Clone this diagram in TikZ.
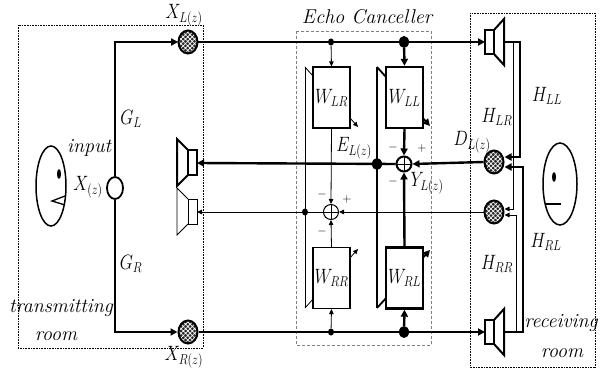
\documentclass[tikz,border=0pt]{standalone}
\usepackage{graphicx}
\usetikzlibrary{arrows.meta,shapes.geometric,patterns.meta,calc}
\newcommand{\ml}[1]{\scalebox{0.82}[1]{$#1$}}
\tikzset{
  thk/.style={line width=2.4pt},
  med/.style={line width=1.8pt},
  thn/.style={line width=0.8pt},
  tip/.style={-{Triangle[length=7pt,width=7pt]}},
  tips/.style={-{Triangle[length=5pt,width=4.5pt]}},
  lab/.style={font=\fontsize{22}{26}\selectfont, inner sep=0pt},
  itx/.style={font=\fontsize{20}{24}\selectfont\itshape, inner sep=0pt},
  sgn/.style={font=\fontsize{12}{14}\selectfont, inner sep=0pt},
  mic/.style={ellipse, draw, line width=2pt, minimum width=19pt, minimum height=23pt, inner sep=0pt,
    preaction={fill=black!85}, pattern={Hatch[angle=45,distance=3.2pt,line width=0.7pt]}, pattern color=white},
  wbox/.style={draw, fill=white, minimum width=37pt, minimum height=61pt, inner sep=0pt, line width=1.1pt,
    font=\fontsize{20}{24}\selectfont},
  wboxk/.style={wbox, line width=2.4pt},
  sumc/.style={circle, draw, fill=white, minimum size=15pt, inner sep=0pt,
    path picture={\draw[line width=0.8pt] (path picture bounding box.north) -- (path picture bounding box.south)
      (path picture bounding box.west) -- (path picture bounding box.east);}},
  dotb/.style={ellipse, fill, minimum width=10pt, minimum height=12pt, inner sep=0pt},
  dots/.style={ellipse, fill, minimum width=6pt, minimum height=7pt, inner sep=0pt},
  room/.style={draw, line width=0.6pt, dash pattern=on 0.8pt off 0.8pt},
  ecbox/.style={draw=gray, line width=0.6pt, dash pattern=on 3pt off 2pt},
}
\begin{document}
\begin{tikzpicture}[x=1pt,y=-1pt]
\useasboundingbox (0,0) rectangle (600,374);
% rooms
\draw[room] (18,25) rectangle (203,348);
\draw[room] (470,13) rectangle (595,367);
\draw[ecbox] (296,31) rectangle (431,345);
\node[itx] (ectitle) at (367,17) {Echo Canceller};

% faces
\draw[line width=1.5pt] (51,186) ellipse [x radius=15pt, y radius=40pt];
\fill (59,174) ellipse [x radius=2pt, y radius=5pt];
\draw[line width=1.3pt] (65,196) -- (52,201) -- (65,205);
\draw[line width=1.5pt] (560,184) ellipse [x radius=17pt, y radius=41pt];
\fill (554,177) ellipse [x radius=2pt, y radius=5pt];
\draw[line width=1.5pt] (546,204) -- (561,204);

% input and microphones
\node[ellipse, draw, line width=1.8pt, minimum width=16pt, minimum height=22pt, inner sep=0pt] (in) at (115,188) {};
\node[mic] (XL) at (188,42) {};
\node[mic] (XR) at (188,332) {};
\node[mic] (DL) at (494,162) {};
\node[mic] (DR) at (494,212) {};
\draw[med,tip] (in.north) |- (XL.west);
\draw[med,tip] (in.south) |- (XR.west);

% speakers: receiving room
\coordinate (sTin) at (485,42); \coordinate (sTout) at (504,42);
\coordinate (sBin) at (485,332); \coordinate (sBout) at (504,332);
\draw[line width=2pt] (485,30) rectangle (494,54);
\draw[line width=2pt] (494,30) -- (504,19) -- (504,65) -- (494,54);
\draw[line width=2pt] (485,320) rectangle (494,344);
\draw[line width=2pt] (494,320) -- (504,309) -- (504,355) -- (494,344);
% speakers: transmitting room
\coordinate (sLa) at (197,163); \coordinate (sLb) at (197,212);
\draw[line width=2pt] (188,150) rectangle (197,175);
\draw[line width=2pt] (188,150) -- (177,139) -- (177,186) -- (188,175);
\draw[line width=0.9pt] (188,199) rectangle (197,224);
\draw[line width=0.9pt] (188,199) -- (177,188) -- (177,235) -- (188,224);

% adaptation lines (under the boxes)
\coordinate (aT) at (377,67); \coordinate (aB) at (377,308);
\coordinate (bT) at (305,67); \coordinate (bB) at (305,308);
\draw[thk] (aT) -- (aB);
\draw[med,tip] (aT) -- (430,126);
\draw[med,tip] (aB) -- (430,250);
\draw[thn] (bT) -- (bB);
\draw[thn,tips] (bT) -- (358,127);
\draw[thn,tips] (bB) -- (358,249);

% filter boxes
\node[wbox] (WLR) at (331.5,97.5) {\ml{W_{LR}}};
\node[wboxk] (WLL) at (404.5,97.5) {\ml{W_{LL}}};
\node[wbox] (WRR) at (331.5,278) {\ml{W_{RR}}};
\node[wboxk] (WRL) at (404.5,278) {\ml{W_{RL}}};

% main lines
\node[dots] (d1) at (331,42) {};
\node[dotb] (d2) at (404,42) {};
\node[dots] (d3) at (331,332) {};
\node[dotb] (d4) at (404,332) {};
\draw[thk,tip] (XL.east) -- (sTin);
\draw[thk,tip] (XR.east) -- (sBin);
\draw[thn,tips] (d1) -- (WLR.north);
\draw[thk,tip] (d2) -- (WLL.north);
\draw[thn,tips] (d3) -- (WRR.south);
\draw[thk,tip] (d4) -- (WRL.south);

% summing junctions
\node[sumc, line width=2pt] (S1) at (404,164) {};
\node[sumc, line width=1pt] (S2) at (331,212) {};
\node[dotb] (eL) at (377,164) {};
\node[dots] (eR) at (305,212) {};
\draw[thk,tip] (WLL.south) -- (S1.north);
\draw[thk,tip] (WRL.north) -- (S1.south);
\draw[thk,tip] (DL.west) -- (S1.east);
\draw[thk,tip] (S1.west) -- (sLa);
\draw[thn,tips] (WLR.south) -- (S2.north);
\draw[thn,tips] (WRR.north) -- (S2.south);
\draw[thn,tips] (DR.west) -- (S2.east);
\draw[thn,tips] (S2.west) -- (sLb);

% acoustic paths in receiving room
\coordinate (hLR) at (513,42); \coordinate (hRR) at (516,332);
\draw[thk,tip] (sTout) -- (520,42) |- ($(DL.east)+(0,-5)$);
\draw[thk,tip] (sBout) -- (523,332) |- ($(DL.east)+(0,5)$);
\draw[thn,tips] (hLR) |- ($(DR.east)+(0,-3)$);
\draw[thn,tips] (hRR) |- ($(DR.east)+(0,3)$);

% signs
\node[sgn] (m1) at (393,148) {$-$};
\node[sgn] (p1) at (422,149) {$+$};
\node[sgn] (m2) at (393,182) {$-$};
\node[sgn] (m3) at (322,195) {$-$};
\node[sgn] (p2) at (347,200) {$+$};
\node[sgn] (m4) at (322,232) {$-$};

% labels
\node[lab] (lXL) at (184,15) {\ml{X_{L(z)}}};
\node[lab] (lXR) at (184,357) {\ml{X_{R(z)}}};
\node[lab] (lGL) at (131,119) {\ml{G_L}};
\node[lab] (lGR) at (131,264) {\ml{G_R}};
\node[itx] (linput) at (89,148) {input};
\node[lab] (lX) at (88,187) {\ml{X_{(z)}}};
\node[itx] (ltr) at (61,308) {transmitting};
\node[itx] (ltr2) at (56,336) {room};
\node[itx] (lrc) at (561,323) {receiving};
\node[itx] (lrc2) at (562,353) {room};
\node[lab] (lEL) at (354,148) {\ml{E_{L(z)}}};
\node[lab] (lYL) at (427,183) {\ml{Y_{L(z)}}};
\node[lab] (lDL) at (472,142) {\ml{D_{L(z)}}};
\node[lab] (lHLL) at (547,96) {\ml{H_{LL}}};
\node[lab] (lHLR) at (497,117) {\ml{H_{LR}}};
\node[lab] (lHRL) at (546,242) {\ml{H_{RL}}};
\node[lab] (lHRR) at (497,264) {\ml{H_{RR}}};
\end{tikzpicture}
\end{document}
